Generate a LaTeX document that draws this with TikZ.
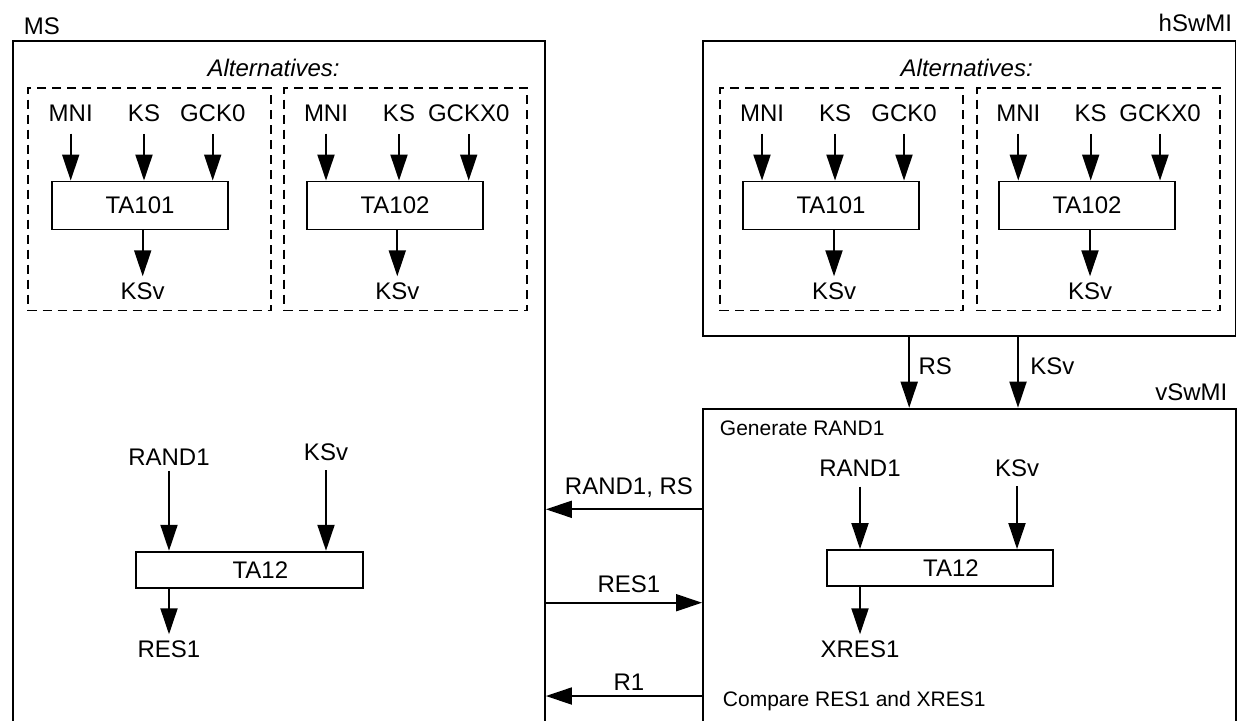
\documentclass[tikz,border=0pt]{standalone}
\usepackage{fontspec}
\setmainfont{Liberation Sans}
\usepackage{tikz}
\usetikzlibrary{arrows.meta, positioning, calc}

\begin{document}
\begin{tikzpicture}[
  x=0.5pt, y=-0.5pt,
  font=\fontsize{12}{14}\selectfont,
  line width=0.95pt,
  frame/.style={draw, rectangle, anchor=north west, inner sep=0pt},
  alt/.style={draw, dash pattern=on 4.5pt off 3pt,
    minimum width=121.5pt, minimum height=111.25pt, inner sep=0pt},
  func/.style={draw, minimum width=87.7pt, minimum height=24pt, inner sep=0pt},
  funcw/.style={draw, minimum width=113.3pt, minimum height=18pt, inner sep=0pt},
  lbl/.style={inner sep=2.5pt, anchor=base},
  title/.style={inner sep=0pt},
  note/.style={font=\fontsize{10.5}{12}\selectfont, inner sep=0pt, anchor=base west},
  arr/.style={-{Triangle[length=13pt, width=8.5pt]}},
]
\useasboundingbox (0,0) rectangle (1237,720);

% ── Outer frames ──
\node[frame, minimum width=266pt, minimum height=350pt] (ms) at (12,40) {};
\node[frame, minimum width=266.25pt, minimum height=147.5pt] (hsw) at (702,40) {};
\node[frame, minimum width=266.5pt, minimum height=170pt] (vsw) at (702,407.7) {};
\node[title, anchor=base west] (mslbl) at (23,34.5) {MS};
\node[title, anchor=base east] (hswlbl) at (1233,31) {hSwMI};
\node[title, anchor=base east] (vswlbl) at (1228.3,400) {vSwMI};

% ── MS: alternatives ──
\node[title, anchor=base] (msalt) at (273.6,76) {\itshape Alternatives:};

\node[alt] (a1) at (149.2,199.25) {};
\node[func] (ta1) at (140,205.5) {TA101};
\node[lbl] (mni1) at (70.7,121.7) {MNI};
\node[lbl] (ks1) at (144,121.7) {KS};
\node[lbl] (gck1) at (212.7,121.7) {GCK0};
\node[lbl] (ksv1) at (142.7,299) {KSv};
\draw[arr, shorten <=3pt] (mni1) -- (mni1 |- ta1.north);
\draw[arr, shorten <=3pt] (ks1) -- (ks1 |- ta1.north);
\draw[arr, shorten <=3pt] (gck1) -- (gck1 |- ta1.north);
\draw[arr] (ksv1 |- ta1.south) -- (ksv1);

\node[alt] (a2) at (405.9,199.25) {};
\node[func] (ta2) at (395,205.5) {TA102};
\node[lbl] (mni2) at (326,121.7) {MNI};
\node[lbl] (ks2) at (399,121.7) {KS};
\node[lbl] (gckx2) at (468.7,121.7) {GCKX0};
\node[lbl] (ksv2) at (397.3,299) {KSv};
\draw[arr, shorten <=3pt] (mni2) -- (mni2 |- ta2.north);
\draw[arr, shorten <=3pt] (ks2) -- (ks2 |- ta2.north);
\draw[arr, shorten <=3pt] (gckx2) -- (gckx2 |- ta2.north);
\draw[arr] (ksv2 |- ta2.south) -- (ksv2);

% ── MS: TA12 ──
\node[funcw] (ta12m) at (249.3,569.7) {\hspace*{11pt}TA12};
\node[lbl] (rand1m) at (169,465) {RAND1};
\node[lbl] (ksvm) at (326,460) {KSv};
\node[lbl] (res1m) at (169,657) {RES1};
\draw[arr] (rand1m) -- (rand1m |- ta12m.north);
\draw[arr, shorten <=2pt] (ksvm) -- (ksvm |- ta12m.north);
\draw[arr] (res1m |- ta12m.south) -- (res1m);

% ── hSwMI: alternatives ──
\node[title, anchor=base] (hswalt) at (966.7,76) {\itshape Alternatives:};

\node[alt] (a3) at (841.7,199.25) {};
\node[func] (ta3) at (831,205.5) {TA101};
\node[lbl] (mni3) at (762,121.7) {MNI};
\node[lbl] (ks3) at (835,121.7) {KS};
\node[lbl] (gck3) at (904,121.7) {GCK0};
\node[lbl] (ksv3) at (834,299) {KSv};
\draw[arr, shorten <=3pt] (mni3) -- (mni3 |- ta3.north);
\draw[arr, shorten <=3pt] (ks3) -- (ks3 |- ta3.north);
\draw[arr, shorten <=3pt] (gck3) -- (gck3 |- ta3.north);
\draw[arr] (ksv3 |- ta3.south) -- (ksv3);

\node[alt] (a4) at (1098.9,199.25) {};
\node[func] (ta4) at (1087,205.5) {TA102};
\node[lbl] (mni4) at (1018.3,121.7) {MNI};
\node[lbl] (ks4) at (1090.7,121.7) {KS};
\node[lbl] (gckx4) at (1160,121.7) {GCKX0};
\node[lbl] (ksv4) at (1090,299) {KSv};
\draw[arr, shorten <=3pt] (mni4) -- (mni4 |- ta4.north);
\draw[arr, shorten <=3pt] (ks4) -- (ks4 |- ta4.north);
\draw[arr, shorten <=3pt] (gckx4) -- (gckx4 |- ta4.north);
\draw[arr] (ksv4 |- ta4.south) -- (ksv4);

% ── hSwMI -> vSwMI ──
\draw[arr] ([xshift=-30pt]hsw.south) -- ([xshift=-30pt]hsw.south |- vsw.north)
  node[lbl, pos=.41, anchor=west, xshift=1.7pt] {RS};
\draw[arr] ([xshift=24.4pt]hsw.south) -- ([xshift=24.4pt]hsw.south |- vsw.north)
  node[lbl, pos=.41, anchor=west, xshift=3.2pt] {KSv};

% ── vSwMI ──
\node[note] (gen) at (719,435) {Generate RAND1};
\node[note] (cmp) at (722,706) {Compare RES1 and XRES1};
\node[funcw] (ta12v) at (940,568) {\hspace*{11pt}TA12};
\node[lbl] (rand1v) at (860,476.7) {RAND1};
\node[lbl] (ksvv) at (1017,476) {KSv};
\node[lbl] (xres1v) at (860,657) {XRES1};
\draw[arr, shorten <=2pt] (rand1v) -- (rand1v |- ta12v.north);
\draw[arr, shorten <=2pt] (ksvv) -- (ksvv |- ta12v.north);
\draw[arr] (xres1v |- ta12v.south) -- (xres1v);

% ── MS <-> vSwMI ──
\draw[arr] (vsw.west |- 0,509.3) -- (ms.east |- 0,509.3)
  node[lbl, midway, above=2.9pt, xshift=2.5pt] {RAND1, RS};
\draw[arr] (ms.east |- 0,602.7) -- (vsw.west |- 0,602.7)
  node[lbl, midway, above=2.2pt, xshift=2.5pt] {RES1};
\draw[arr] (vsw.west |- 0,696) -- (ms.east |- 0,696)
  node[lbl, midway, above=0pt, xshift=2.5pt] {R1};
\end{tikzpicture}
\end{document}
